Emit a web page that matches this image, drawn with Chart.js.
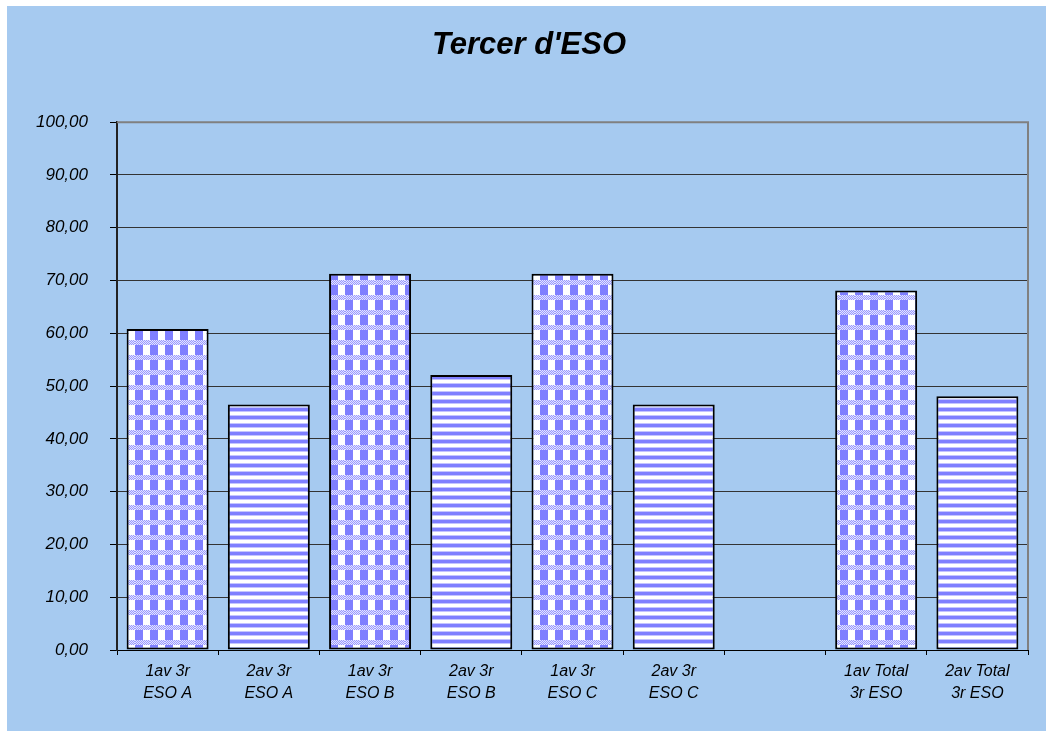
<!DOCTYPE html>
<html>
<head>
<meta charset="utf-8">
<script src="https://cdn.jsdelivr.net/npm/chart.js@4/dist/chart.umd.min.js"></script>
<style>
  html, body { margin: 0; padding: 0; background: #fff; }
  #wrap { width: 1048px; height: 733px; position: relative; }
</style>
</head>
<body>
<div id="wrap"><canvas id="graphic" width="1048" height="733"></canvas></div>
<script>
const labels = [
  ["1av 3r", "ESO A"], ["2av 3r", "ESO A"],
  ["1av 3r", "ESO B"], ["2av 3r", "ESO B"],
  ["1av 3r", "ESO C"], ["2av 3r", "ESO C"],
  "",
  ["1av Total", "3r ESO"], ["2av Total", "3r ESO"]
];
const values = [60.8, 46.5, 71.3, 52.1, 71.3, 46.5, null, 68.1, 48.1];
const kinds = ["check", "stripe", "check", "stripe", "check", "stripe", "check", "check", "stripe"];
const yTicks = { min: 0, max: 100, step: 10 };

function checkPattern(ctx) {
  const c = document.createElement("canvas");
  c.width = 15; c.height = 15;
  const g = c.getContext("2d");
  g.fillStyle = "#fff"; g.fillRect(0, 0, 15, 15);
  g.fillStyle = "#7f7fff"; g.fillRect(0, 0, 8, 10);
  for (let y = 10; y < 15; y++) {
    for (let x = 0; x < 15; x++) {
      g.fillStyle = (x + y) % 2 ? "#9a9aff" : "#e4e4ff";
      g.fillRect(x, y, 1, 1);
    }
  }
  return ctx.createPattern(c, "repeat");
}
function stripePattern(ctx) {
  const c = document.createElement("canvas");
  c.width = 4; c.height = 8;
  const g = c.getContext("2d");
  g.fillStyle = "#fff"; g.fillRect(0, 0, 4, 8);
  g.fillStyle = "#7f7fff"; g.fillRect(0, 0, 4, 3);
  g.fillStyle = "#c4c4ff"; g.fillRect(0, 3, 4, 1); g.fillRect(0, 7, 4, 1);
  return ctx.createPattern(c, "repeat");
}

const ctx = document.getElementById("graphic").getContext("2d");
const pats = { check: checkPattern(ctx), stripe: stripePattern(ctx) };
const fmt = v => v.toFixed(2).replace(".", ",");

const bgPlugin = {
  id: "bg",
  beforeDraw(chart) {
    const c = chart.ctx;
    c.save();
    c.fillStyle = "#fff";
    c.fillRect(0, 0, chart.width, chart.height);
    c.fillStyle = "#a6caf0";
    c.fillRect(7, 6, 1039, 725);
    c.restore();
  },
  afterDraw(chart) {
    const a = chart.chartArea, c = chart.ctx;
    c.save();
    c.strokeStyle = "#808080";
    c.lineWidth = 2;
    c.beginPath();
    c.moveTo(a.left, a.top);
    c.lineTo(a.right, a.top);
    c.lineTo(a.right, a.bottom);
    c.stroke();
    c.restore();
  }
};

new Chart(ctx, {
  type: "bar",
  data: {
    labels: labels,
    datasets: [{
      data: values,
      backgroundColor: kinds.map(k => pats[k]),
      borderColor: "#000",
      borderWidth: 2,
      borderSkipped: false,
      categoryPercentage: 1,
      barPercentage: 0.81
    }]
  },
  options: {
    responsive: false,
    animation: false,
    layout: { padding: { left: 30, right: 20, top: 0, bottom: 0 } },
    plugins: {
      legend: { display: false },
      tooltip: { enabled: false },
      title: {
        display: true,
        text: "Tercer d'ESO",
        color: "#000",
        font: { family: "Liberation Sans, Arial", size: 31, weight: "bold", style: "italic" },
        padding: { top: 27, bottom: 58 }
      }
    },
    scales: {
      x: {
        grid: { display: true, drawOnChartArea: false, offset: true, tickLength: 5, color: "#000" },
        border: { color: "#000", width: 1 },
        ticks: {
          color: "#000",
          padding: 5,
          maxRotation: 0,
          autoSkip: false,
          font: { family: "Liberation Sans, Arial", size: 16, style: "italic", lineHeight: 1.4 }
        },
        afterFit(scale) { scale.height = 83; }
      },
      y: {
        min: yTicks.min,
        max: yTicks.max,
        grid: {
          color: c => c.tick && c.tick.value === 100 ? "#808080" : "#333",
          tickLength: 7,
          tickColor: "#000"
        },
        border: { color: "#222", width: 2 },
        ticks: {
          stepSize: yTicks.step,
          color: "#000",
          padding: 22,
          callback: v => fmt(v),
          font: { family: "Liberation Sans, Arial", size: 17, style: "italic" }
        },
        afterFit(scale) { scale.width = 87; }
      }
    }
  },
  plugins: [bgPlugin]
});
</script>
</body>
</html>
